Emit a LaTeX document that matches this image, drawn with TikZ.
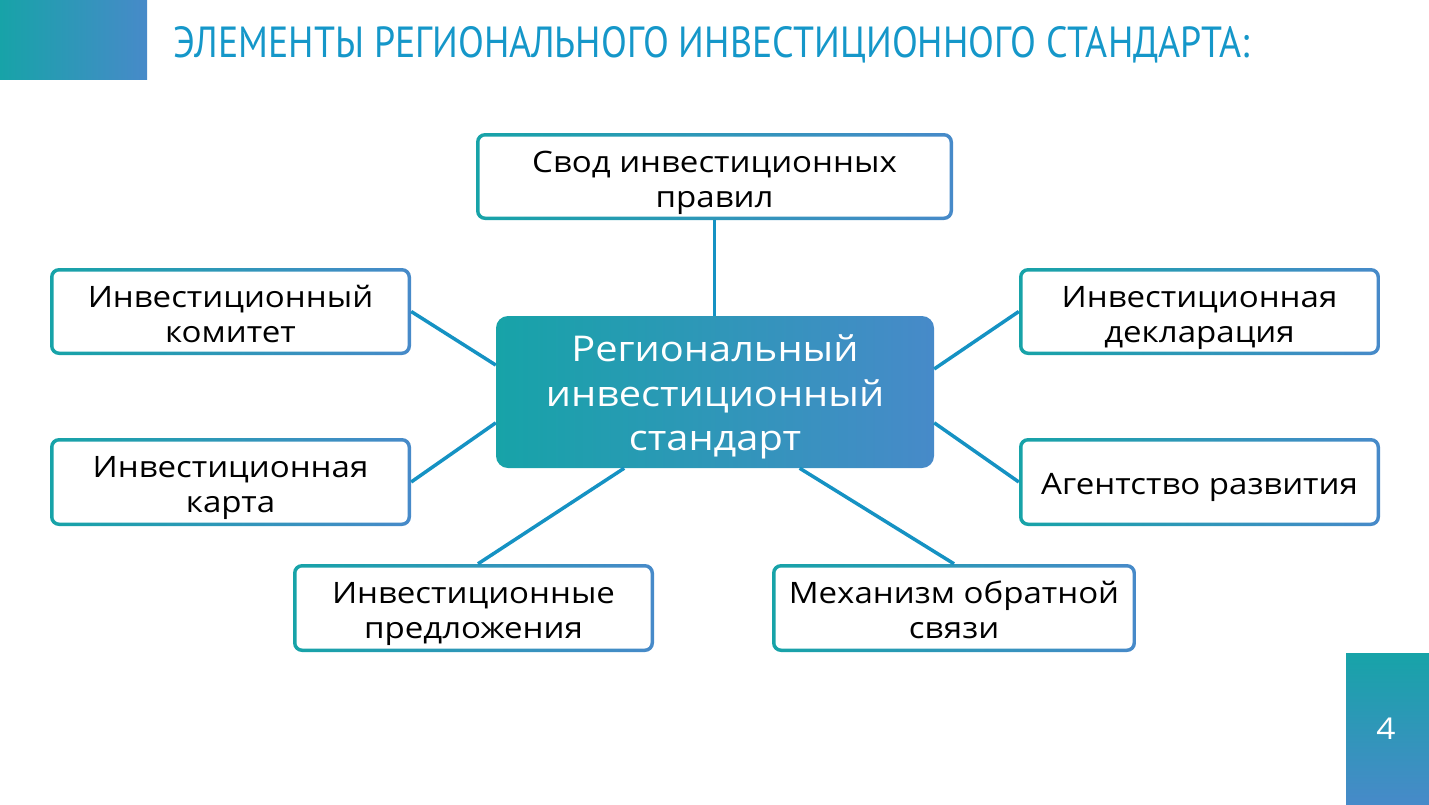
\documentclass[tikz,border=0pt]{standalone}
\usepackage{fontspec}
\usepackage{graphicx}
\setmainfont{Open Sans}[FakeStretch=1.12]
\newfontfamily\titlefont{PT Sans}
\definecolor{cteal}{HTML}{17A3A8}
\definecolor{cblue}{HTML}{478AC9}
\definecolor{cline}{HTML}{1592C3}
\definecolor{ctitle}{HTML}{1597C9}
\newcommand\txtlines[2]{\raisebox{#1}[\height][\depth]{\begin{tabular}{@{}c@{}}#2\end{tabular}}}
\begin{document}
\begin{tikzpicture}[x=1pt,y=-1pt,
  gbox/.style={rounded corners=9pt, inner sep=0pt, fill=white,
    font=\fontsize{29.5}{35}\selectfont,
    path picture={
      \shade[left color=cteal,right color=cblue] (path picture bounding box.south west) rectangle (path picture bounding box.north east);
      \fill[white, rounded corners=6pt] ([shift={(3.5pt,3.5pt)}]path picture bounding box.south west) rectangle ([shift={(-3.5pt,-3.5pt)}]path picture bounding box.north east);
    }},
  cbox/.style={rounded corners=12pt, inner sep=0pt, left color=cteal, right color=cblue,
    text=white, font=\fontsize{35.5}{44.5}\selectfont},
  conn/.style={draw=cline, line width=3.5pt},
]
\useasboundingbox (0,0) rectangle (1429,804);
% decorative blocks
\node[left color=cteal,right color=cblue, minimum width=147pt, minimum height=79pt, inner sep=0pt] (corner) at (73.5,39.5) {};
\node[top color=cteal,bottom color=cblue, minimum width=83pt, minimum height=151pt, inner sep=0pt] (numbox) at (1387.5,728.5) {};
\node[text=white, font=\fontsize{30}{30}\selectfont] (num) at (1386,729) {4};
% title
\node[anchor=base west, inner sep=0pt, text=ctitle] (title) at (173,57) {\resizebox{1077pt}{31pt}{\titlefont ЭЛЕМЕНТЫ РЕГИОНАЛЬНОГО ИНВЕСТИЦИОННОГО СТАНДАРТА:}};
% nodes
\node[cbox, minimum width=438pt, minimum height=152pt] (c) at (715,392) {\txtlines{-5.5pt}{Региональный\\инвестиционный\\стандарт}};
\node[gbox, minimum width=477pt, minimum height=87pt] (top) at (714.5,176.5) {\txtlines{-6pt}{Свод инвестиционных\\правил}};
\node[gbox, minimum width=361pt, minimum height=87pt] (l1) at (230.5,311.5) {\txtlines{-6pt}{Инвестиционный\\комитет}};
\node[gbox, minimum width=361pt, minimum height=88pt] (l2) at (230.5,482) {\txtlines{-6pt}{Инвестиционная\\карта}};
\node[gbox, minimum width=361pt, minimum height=88pt] (bl) at (473.5,608) {\txtlines{-6pt}{Инвестиционные\\предложения}};
\node[gbox, minimum width=364pt, minimum height=88pt] (br) at (954,608) {\txtlines{-6pt}{Механизм обратной\\связи}};
\node[gbox, minimum width=361pt, minimum height=87pt] (r1) at (1199.5,311.5) {\txtlines{-6pt}{Инвестиционная\\декларация}};
\node[gbox, minimum width=361pt, minimum height=88pt] (r2) at (1199.5,482) {\txtlines{-5pt}{Агентство развития}};
% connectors
\draw[conn] (top.south) -- (top.south |- c.north);
\draw[conn] (l1.east) -- (c.173.5);
\draw[conn] (l2.east) -- (c.188.6);
\draw[conn] (r1.west) -- (c.6.25);
\draw[conn] (r2.west) -- (c.352);
\draw[conn] ([xshift=4.5pt]bl.north) -- (c.220.8);
\draw[conn] (br.north) -- (c.318.2);
\end{tikzpicture}
\end{document}
